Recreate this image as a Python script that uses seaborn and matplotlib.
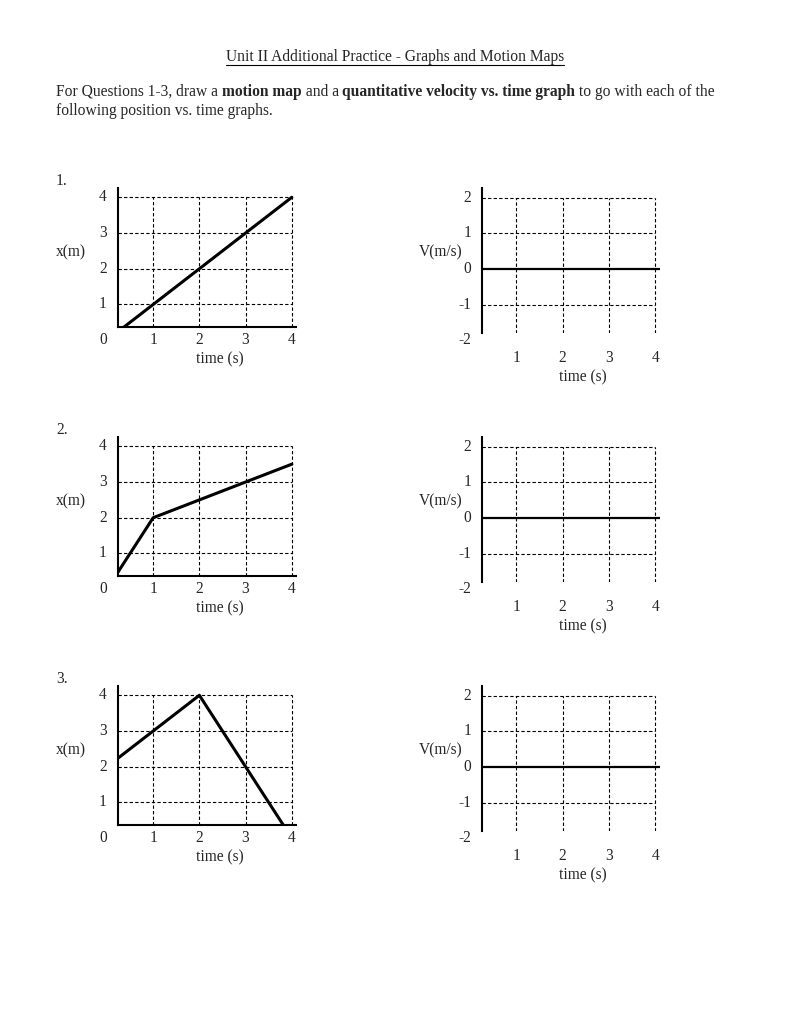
import numpy as np
import matplotlib
matplotlib.use("Agg")
import matplotlib.pyplot as plt
import seaborn as sns
from matplotlib.lines import Line2D

sns.set_style("white")
plt.rcParams["font.family"] = "Liberation Serif"
FS = 11.2

W, H = 791, 1024

# position vs time data for questions 1-3
t1 = [0, 4]
x1 = [0, 4]
t2 = [0, 1, 4]
x2 = [0, 2, 3.5]
t3 = [0, 2, 4]
x3 = [2, 4, 0]
questions = [(t1, x1), (t2, x2), (t3, x3)]

x_ticks = [1, 2, 3, 4]
x_tick_labels = ["1", "2", "3", "4"]
pos_ticks = [1, 2, 3, 4]
vel_ticks = [-2, -1, 0, 1, 2]

fig = plt.figure(figsize=(W / 100, H / 100), dpi=100)


def add_ax(left, top, right, bottom):
    return fig.add_axes([left / W, 1 - bottom / H, (right - left) / W, (bottom - top) / H])


def ftext(px, py, s, **kw):
    return fig.text(px / W, 1 - py / H, s, fontsize=FS, va="center", **kw)


# header
title = ftext(395, 57, "Unit II Additional Practice - Graphs and Motion Maps", ha="center")
fig.canvas.draw()
r = fig.canvas.get_renderer()
bb = title.get_window_extent(r)
fig.add_artist(Line2D([bb.x0 / W, bb.x1 / W], [1 - 65 / H] * 2, color="black", lw=0.8))

pieces = [("For Questions 1-3, draw a ", "normal"), ("motion map", "bold"), (" and a ", "normal"),
          ("quantitative velocity vs. time graph", "bold"), (" to go with each of the", "normal")]
px = 56
for s, w in pieces:
    t = ftext(px, 92, s, ha="left", fontweight=w)
    px += t.get_window_extent(r).width
ftext(56, 111, "following position vs. time graphs.", ha="left")

for i, (tq, xq) in enumerate(questions):
    dy = 249 * i
    ftext(56, 181 + dy, f"{i + 1}.", ha="left")

    # position graph
    ax = add_ax(118, 188 + dy, 296, 327 + dy)
    sns.lineplot(x=tq, y=xq, ax=ax, color="black", lw=2.2)
    ax.set_xlim(0.24, 4.09)
    ax.set_ylim(0.37, 4.26)
    for v in x_ticks:
        ax.axvline(v, color="black", ls=(0, (3, 2)), lw=0.8, ymax=(4 - 0.37) / (4.26 - 0.37))
    for v in pos_ticks:
        ax.axhline(v, color="black", ls=(0, (3, 2)), lw=0.8, xmax=(4 - 0.24) / (4.09 - 0.24))
    ax.set_xticks([])
    ax.set_yticks([])
    for s in ["top", "right"]:
        ax.spines[s].set_visible(False)
    for s in ["left", "bottom"]:
        ax.spines[s].set_color("black")
        ax.spines[s].set_linewidth(1.5)
    for v in pos_ticks:
        ax.text(0.0, v, str(v), ha="right", va="center", fontsize=FS, clip_on=False)
    ax.text(0.0, 0.0, "0", ha="right", va="center", fontsize=FS, clip_on=False)
    for v, lab in zip(x_ticks, x_tick_labels):
        ax.text(v, 0.0, lab, ha="center", va="center", fontsize=FS, clip_on=False)
    ftext(220, 359 + dy, "time (s)", ha="center")
    ftext(71, 252 + dy, "x(m)", ha="center")

    # blank velocity graph
    bx = add_ax(482, 188 + dy, 660, 333 + dy)
    bx.axhline(0, color="black", lw=1.6)
    bx.set_xlim(0.26, 4.1)
    bx.set_ylim(-1.8, 2.28)
    for v in x_ticks:
        bx.axvline(v, color="black", ls=(0, (3, 2)), lw=0.8, ymax=(2 + 1.8) / (2.28 + 1.8))
    for v in [-1, 1, 2]:
        bx.axhline(v, color="black", ls=(0, (3, 2)), lw=0.8, xmax=(4 - 0.26) / (4.1 - 0.26))
    bx.set_xticks([])
    bx.set_yticks([])
    for s in ["top", "right", "bottom"]:
        bx.spines[s].set_visible(False)
    bx.spines["left"].set_color("black")
    bx.spines["left"].set_linewidth(1.5)
    for v in vel_ticks:
        bx.text(0.03, v, str(v), ha="right", va="center", fontsize=FS, clip_on=False)
    for v, lab in zip(x_ticks, x_tick_labels):
        bx.text(v, -2.5, lab, ha="center", va="center", fontsize=FS, clip_on=False)
    ftext(583, 377 + dy, "time (s)", ha="center")
    ftext(441, 252 + dy, "V(m/s)", ha="center")

fig.savefig("out.png", dpi=100, facecolor="white")
